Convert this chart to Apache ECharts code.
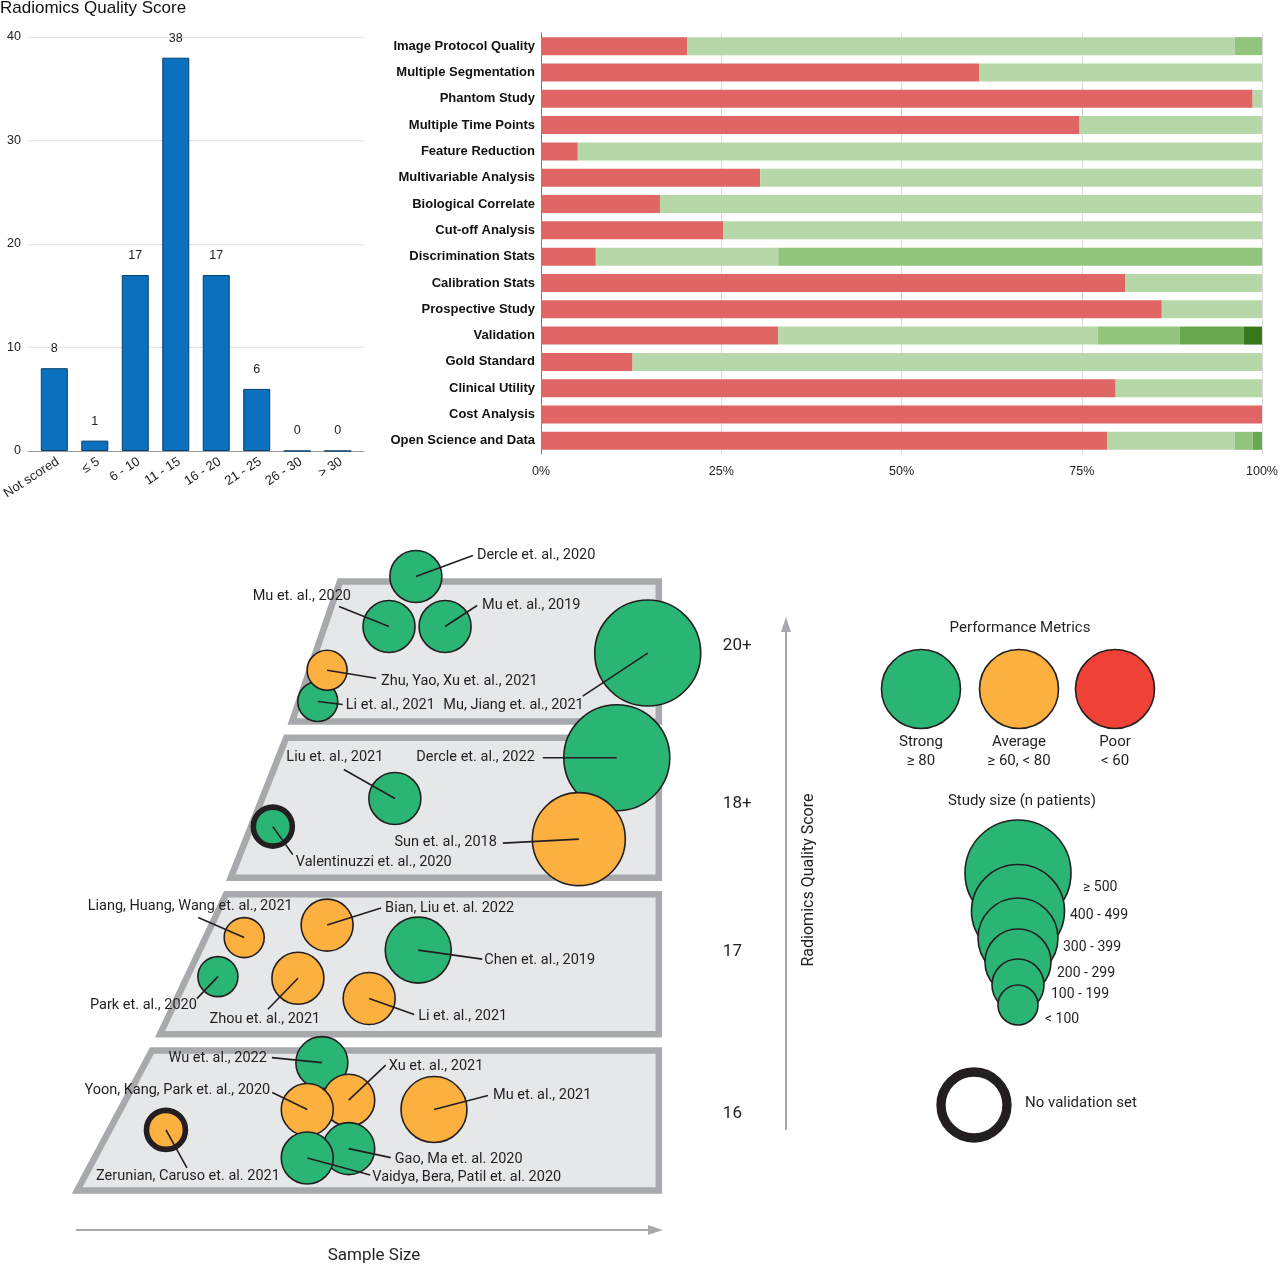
<!DOCTYPE html>
<html><head><meta charset="utf-8">
<script src="https://cdn.jsdelivr.net/npm/echarts@6/dist/echarts.min.js"></script>
<style>html,body{margin:0;padding:0;background:#fff}#c{width:1280px;height:1267px}</style>
</head><body><div id="c"></div>
<script>
// ---------- DATA ----------
const rqsCategories = ['Not scored', '≤ 5', '6 - 10', '11 - 15', '16 - 20', '21 - 25', '26 - 30', '> 30'];
const rqsCounts = [8, 1, 17, 38, 17, 6, 0, 0];

const criteria = ['Image Protocol Quality', 'Multiple Segmentation', 'Phantom Study', 'Multiple Time Points',
  'Feature Reduction', 'Multivariable Analysis', 'Biological Correlate', 'Cut-off Analysis',
  'Discrimination Stats', 'Calibration Stats', 'Prospective Study', 'Validation', 'Gold Standard',
  'Clinical Utility', 'Cost Analysis', 'Open Science and Data'];
const levelNames = ['Not fulfilled', 'Level 1', 'Level 2', 'Level 3', 'Level 4'];
const pctNotMet = [20.3, 60.8, 98.7, 74.7, 5.1, 30.4, 16.5, 25.3, 7.6, 81.0, 86.1, 32.9, 12.7, 79.7, 100, 78.5];
const pctLevel1 = [75.9, 39.2, 1.3, 25.3, 94.9, 69.6, 83.5, 74.7, 25.3, 19.0, 13.9, 44.3, 87.3, 20.3, 0, 17.7];
const pctLevel2 = [3.8, 0, 0, 0, 0, 0, 0, 0, 67.1, 0, 0, 11.4, 0, 0, 0, 2.5];
const pctLevel3 = [0, 0, 0, 0, 0, 0, 0, 0, 0, 0, 0, 8.9, 0, 0, 0, 1.3];
const pctLevel4 = [0, 0, 0, 0, 0, 0, 0, 0, 0, 0, 0, 2.5, 0, 0, 0, 0];

const bandLabels = ['16', '17', '18+', '20+'];
const bandValues = [16, 17, 18, 19];

const studyNames = ['Dercle et. al., 2020', 'Mu et. al., 2020', 'Mu et. al., 2019', 'Li et. al., 2021',
  'Zhu, Yao, Xu et. al., 2021', 'Mu, Jiang et. al., 2021',
  'Dercle et. al., 2022', 'Liu et. al., 2021', 'Valentinuzzi et. al., 2020', 'Sun et. al., 2018',
  'Liang, Huang, Wang et. al., 2021', 'Bian, Liu et. al. 2022', 'Chen et. al., 2019', 'Park et. al., 2020',
  'Zhou et. al., 2021', 'Li et. al., 2021',
  'Wu et. al., 2022', 'Xu et. al., 2021', 'Yoon, Kang, Park et. al., 2020', 'Mu et. al., 2021',
  'Zerunian, Caruso et. al. 2021', 'Gao, Ma et. al. 2020', 'Vaidya, Bera, Patil et. al. 2020'];
const studySampleX = [58.2, 53.6, 63.2, 41.4, 43.0, 97.9, 92.6, 54.6, 33.7, 86.1, 28.8, 43.0, 58.6, 24.3, 38.0, 50.2,
  42.1, 46.7, 39.6, 61.3, 15.4, 46.7, 39.6];
const studyScoreY = [19.48, 19.16, 19.16, 18.68, 18.88, 18.99, 18.32, 18.06, 17.88, 17.80, 17.17, 17.25, 17.09, 16.92,
  16.91, 16.78, 16.37, 16.13, 16.07, 16.07, 15.94, 15.82, 15.76];
const studySizeClass = [1, 1, 1, 0, 0, 5, 5, 1, 0, 4, 0, 1, 2, 0, 1, 1, 1, 1, 1, 2, 0, 1, 1];
const studyPerformance = ['strong', 'strong', 'strong', 'strong', 'average', 'strong', 'strong', 'strong', 'strong',
  'average', 'average', 'average', 'strong', 'strong', 'average', 'average', 'strong', 'average', 'average',
  'average', 'average', 'strong', 'strong'];
const studyNoValidation = [0, 0, 0, 0, 0, 0, 0, 0, 1, 0, 0, 0, 0, 0, 0, 0, 0, 0, 0, 0, 1, 0, 0];

const perfLegend = [['Strong', '≥ 80', 'strong'], ['Average', '≥ 60, < 80', 'average'], ['Poor', '< 60', 'poor']];
const sizeClassLabels = ['< 100', '100 - 199', '200 - 299', '300 - 399', '400 - 499', '≥ 500'];

// ---------- LAYOUT / STYLE ----------
const FONT_TOP = '"Liberation Sans", Arial, sans-serif';
const FONT_BOT = 'Roboto, sans-serif';
const INK = '#231f20';
const PERF_COLORS = {strong: '#2bb574', average: '#fbb040', poor: '#ef4136'};
const SIZE_DIAM = [40, 52, 66, 80, 93, 106];
const LEVEL_COLORS = ['#e06666', '#b6d7a8', '#93c47d', '#6aa84f', '#38761d'];
// trapezoid shapes per band: [leftTopX, leftBottomX] (x units)
const bandShape = [[13.0, 0.2], [25.7, 14.4], [36.0, 26.5], [45.2, 37.0]];
const BAND_LABEL_DY = [-6.5, -12, -4, -5.5];
const BAND_HALF = 0.448, BAND_RIGHT = 99.8;
// [lineDx, lineDy, textDx, textDy, align] in px relative to bubble centre
const labelLayout = [
  [57, -21, 61, -21, 'left'], [-50, -20, -38, -30, 'right'], [32, -21, 37, -21, 'left'], [25, 3, 28, 4, 'left'],
  [49, 8, 54, 11, 'left'], [-65, 43, -64, 52, 'right'],
  [-74, 0, -82, 0, 'right'], [-51, -29, -60, -41, 'center'], [20, 28, 23, 36, 'left'], [-76, 4, -82, 3, 'right'],
  [-46, -20, -54, -31, 'center'], [54, -17, 58, -17, 'left'], [64, 9, 66, 10, 'left'], [-21, 22, -21, 29, 'right'],
  [-30, 31, -33, 41, 'center'], [45, 16, 49, 18, 'left'],
  [-50, -5, -55, -4, 'right'], [37, -35, 40, -34, 'left'], [-35, -17, -37, -19, 'right'], [54, -14, 59, -14, 'left'],
  [21, 38, 22, 46, 'center'], [42, 9, 46, 11, 'left'], [63, 17, 65, 19, 'left']
];

const chart = echarts.init(document.getElementById('c'), null, {renderer: 'canvas'});

const stackSeries = [pctNotMet, pctLevel1, pctLevel2, pctLevel3, pctLevel4].map((arr, k) => ({
  type: 'bar', name: levelNames[k], stack: 'rqs', xAxisIndex: 1, yAxisIndex: 1, barWidth: 18,
  itemStyle: {color: LEVEL_COLORS[k]}, data: arr, silent: true, animation: false
}));

const graphics = [];
graphics.push({type: 'text', x: 0, y: 8, style: {text: 'Radiomics Quality Score', fill: '#111', fontSize: 17, fontFamily: FONT_TOP, align: 'left', verticalAlign: 'middle'}});
// axes arrows
graphics.push({type: 'line', shape: {x1: 786, y1: 1130, x2: 786, y2: 628}, style: {stroke: '#a7a9ac', lineWidth: 2}});
graphics.push({type: 'polygon', shape: {points: [[781, 632], [786, 617], [791, 632]]}, style: {fill: '#a7a9ac'}});
graphics.push({type: 'text', x: 809, y: 880, rotation: Math.PI / 2, style: {text: 'Radiomics Quality Score', fill: INK, fontSize: 16, fontFamily: FONT_BOT, align: 'center', verticalAlign: 'middle'}});
graphics.push({type: 'line', shape: {x1: 76, y1: 1230, x2: 654, y2: 1230}, style: {stroke: '#a7a9ac', lineWidth: 2}});
graphics.push({type: 'polygon', shape: {points: [[648, 1225], [663, 1230], [648, 1235]]}, style: {fill: '#a7a9ac'}});
graphics.push({type: 'text', x: 374, y: 1256, style: {text: 'Sample Size', fill: INK, fontSize: 17, fontFamily: FONT_BOT, align: 'center', verticalAlign: 'middle'}});
// performance legend
graphics.push({type: 'text', x: 1020, y: 628, style: {text: 'Performance Metrics', fill: INK, fontSize: 15, fontFamily: FONT_BOT, align: 'center', verticalAlign: 'middle'}});
perfLegend.forEach((p, i) => {
  const cx = [921, 1019, 1115][i];
  graphics.push({type: 'circle', shape: {cx: cx, cy: 689, r: 39.5}, style: {fill: PERF_COLORS[p[2]], stroke: INK, lineWidth: 1.6}});
  graphics.push({type: 'text', x: cx, y: 742, style: {text: p[0], fill: INK, fontSize: 15, fontFamily: FONT_BOT, align: 'center', verticalAlign: 'middle'}});
  graphics.push({type: 'text', x: cx, y: 761, style: {text: p[1], fill: INK, fontSize: 15, fontFamily: FONT_BOT, align: 'center', verticalAlign: 'middle'}});
});
// size legend
graphics.push({type: 'text', x: 1022, y: 801, style: {text: 'Study size (n patients)', fill: INK, fontSize: 15, fontFamily: FONT_BOT, align: 'center', verticalAlign: 'middle'}});
const sizeCy = [1005, 985, 962, 938, 911, 873];
const sizeLabelPos = [[1045, 1019], [1051, 994], [1057, 973], [1063, 947], [1070, 915], [1083, 887]];
for (let k = 5; k >= 0; k--) {
  graphics.push({type: 'circle', shape: {cx: 1018, cy: sizeCy[k], r: SIZE_DIAM[k] / 2}, style: {fill: PERF_COLORS.strong, stroke: INK, lineWidth: 1.6}});
}
sizeClassLabels.forEach((t, k) => {
  graphics.push({type: 'text', x: sizeLabelPos[k][0], y: sizeLabelPos[k][1], style: {text: t, fill: INK, fontSize: 14, fontFamily: FONT_BOT, align: 'left', verticalAlign: 'middle'}});
});
// no validation
graphics.push({type: 'circle', shape: {cx: 974, cy: 1105, r: 33}, style: {fill: '#fff', stroke: INK, lineWidth: 9.3}});
graphics.push({type: 'text', x: 1025, y: 1103, style: {text: 'No validation set', fill: INK, fontSize: 15, fontFamily: FONT_BOT, align: 'left', verticalAlign: 'middle'}});

const option = {
  animation: false,
  backgroundColor: '#fff',
  grid: [
    {left: 28, top: 37, width: 336, height: 414, containLabel: false, outerBoundsMode: 'none'},
    {left: 541, top: 33, width: 721, height: 421, containLabel: false, outerBoundsMode: 'none'},
    {left: 76, top: 534.25, width: 584, height: 703.5, containLabel: false, outerBoundsMode: 'none'}
  ],
  xAxis: [
    {gridIndex: 0, type: 'value', min: -0.65, max: 7.65, splitLine: {show: false}, axisTick: {show: false},
      axisLine: {show: true, lineStyle: {color: '#9a9a9a', width: 1}},
      axisLabel: {customValues: [0, 1, 2, 3, 4, 5, 6, 7], formatter: v => rqsCategories[Math.round(v)] || '',
        rotate: 33, margin: 4, verticalAlign: 'top', fontSize: 13, color: '#222', fontFamily: FONT_TOP}},
    {gridIndex: 1, type: 'value', min: 0, max: 100, interval: 25,
      axisLine: {show: false}, axisTick: {show: false},
      splitLine: {show: true, lineStyle: {color: '#dcdcdc', width: 1}},
      axisLabel: {formatter: '{value}%', fontSize: 12.5, color: '#222', margin: 11, fontFamily: FONT_TOP, showMinLabel: true, showMaxLabel: true}},
    {gridIndex: 2, type: 'value', min: 0, max: 100, show: false}
  ],
  yAxis: [
    {gridIndex: 0, type: 'value', min: 0, max: 40, interval: 10, axisLine: {show: false}, axisTick: {show: false},
      splitLine: {lineStyle: {color: '#e2e2e2', width: 1}},
      axisLabel: {fontSize: 12.5, color: '#222', margin: 7, fontFamily: FONT_TOP}},
    {gridIndex: 1, type: 'category', data: criteria, inverse: true, axisTick: {show: false},
      axisLine: {show: true, lineStyle: {color: '#7a7a7a', width: 1}},
      axisLabel: {fontSize: 13, fontWeight: 'bold', color: '#111', margin: 6, fontFamily: FONT_TOP}},
    {gridIndex: 2, type: 'value', min: 15.25, max: 19.75, show: false}
  ],
  series: [
    {type: 'bar', xAxisIndex: 0, yAxisIndex: 0, barWidth: 27,
      data: rqsCounts.map((v, i) => [i, v]),
      itemStyle: {color: '#0b70bd', borderColor: '#073f6d', borderWidth: 1},
      label: {show: true, position: 'top', distance: 13, fontSize: 12.5, color: '#222', fontFamily: FONT_TOP,
        formatter: p => String(p.value[1])}},
    ...stackSeries,
    {type: 'custom', xAxisIndex: 2, yAxisIndex: 2, z: 1, silent: true,
      data: bandValues.map((v, i) => [v, i]),
      renderItem: (params, api) => {
        const y = api.value(0), i = api.value(1);
        const lt = bandShape[i][0], lb = bandShape[i][1];
        const a = api.coord([lt, y + BAND_HALF]), b = api.coord([BAND_RIGHT, y + BAND_HALF]);
        const c = api.coord([BAND_RIGHT, y - BAND_HALF]), d = api.coord([lb, y - BAND_HALF]);
        const m = api.coord([BAND_RIGHT, y]);
        return {type: 'group', children: [
          {type: 'polygon', shape: {points: [a, b, c, d]}, style: {fill: '#e6e7e8', stroke: '#a7a9ac', lineWidth: 6.5, lineJoin: 'miter'}},
          {type: 'text', style: {x: m[0] + 64, y: m[1] + BAND_LABEL_DY[i], text: bandLabels[i], fill: INK, fontSize: 17, fontFamily: FONT_BOT, align: 'left', verticalAlign: 'middle'}}
        ]};
      }},
    {type: 'scatter', xAxisIndex: 2, yAxisIndex: 2, z: 3, clip: false, silent: true,
      data: studyNames.map((n, i) => ({
        name: n, value: [studySampleX[i], studyScoreY[i]],
        symbolSize: studyNoValidation[i] ? SIZE_DIAM[studySizeClass[i]] - 1 : SIZE_DIAM[studySizeClass[i]],
        itemStyle: {color: PERF_COLORS[studyPerformance[i]], borderColor: INK, borderWidth: studyNoValidation[i] ? 5.6 : 1.6, opacity: 1}
      }))},
    {type: 'custom', xAxisIndex: 2, yAxisIndex: 2, z: 5, silent: true, clip: false,
      data: studyNames.map((n, i) => [studySampleX[i], studyScoreY[i], i]),
      renderItem: (params, api) => {
        const i = api.value(2);
        const c = api.coord([api.value(0), api.value(1)]);
        const L = labelLayout[i];
        return {type: 'group', children: [
          {type: 'line', shape: {x1: c[0], y1: c[1], x2: c[0] + L[0], y2: c[1] + L[1]}, style: {stroke: INK, lineWidth: 1.6}},
          {type: 'text', style: {x: c[0] + L[2], y: c[1] + L[3], text: studyNames[i], fill: INK, fontSize: 14.5, fontFamily: FONT_BOT, align: L[4], verticalAlign: 'middle'}}
        ]};
      }}
  ],
  graphic: graphics
};
chart.setOption(option);
</script>
</body></html>
